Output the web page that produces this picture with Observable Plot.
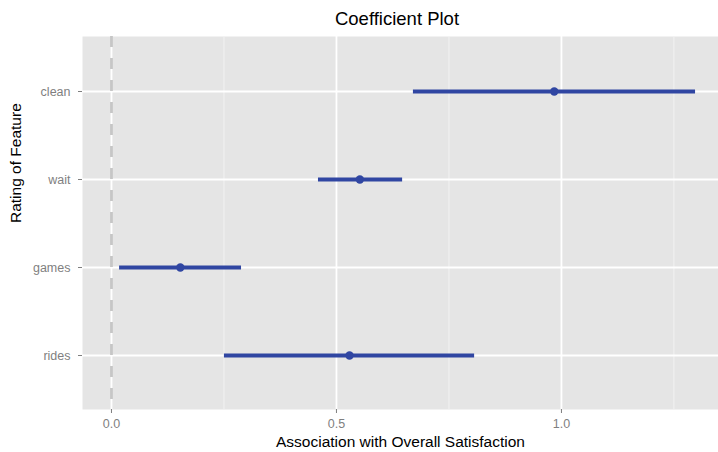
<!DOCTYPE html>
<html>
<head>
<meta charset="utf-8">
<script src="https://cdn.jsdelivr.net/npm/d3@7"></script>
<script src="https://cdn.jsdelivr.net/npm/@observablehq/plot@0.6"></script>
<style>
  html, body { margin: 0; padding: 0; background: #fff; }
  body { width: 718px; height: 452px; overflow: hidden; font-family: "Liberation Sans", Arial, Helvetica, sans-serif; }
  #title { height: 30px; line-height: 37px; text-align: center; font-size: 18.5px; color: #000; padding-left: 76px; box-sizing: border-box; }
  g[aria-label="x-axis tick label"], g[aria-label="y-axis tick label"] { fill: #7f7f7f; }
  g[aria-label="x-axis tick"], g[aria-label="y-axis tick"] { stroke: #7f7f7f; }
</style>
</head>
<body>
<div id="title">Coefficient Plot</div>
<div id="chart"></div>
<script>
const features = ["clean", "wait", "games", "rides"];
const estimates = [0.984, 0.552, 0.153, 0.529];
const lower = [0.671, 0.460, 0.018, 0.251];
const upper = [1.298, 0.647, 0.289, 0.807];
const majorTicks = [0, 0.5, 1.0];
const minorTicks = [0.25, 0.75, 1.25];
const zeroLine = [0];

const data = features.map((f, i) => ({feature: f, est: estimates[i], lo: lower[i], hi: upper[i]}));

const chart = Plot.plot({
  width: 718,
  height: 422,
  marginTop: 6,
  marginBottom: 43,
  marginLeft: 82,
  marginRight: 0,
  style: {fontFamily: '"Liberation Sans", Arial, Helvetica, sans-serif', fontSize: "12.5px", background: "#fff"},
  x: {domain: [-0.0644, 1.349]},
  y: {type: "point", domain: features, padding: 0.6},
  marks: [
    Plot.frame({fill: "#e5e5e5", stroke: null}),
    Plot.ruleX(minorTicks, {stroke: "#f2f2f2", strokeWidth: 1}),
    Plot.ruleX(majorTicks, {stroke: "#ffffff", strokeWidth: 1.8}),
    Plot.ruleY(features, {y: d => d, stroke: "#ffffff", strokeWidth: 1.8}),
    Plot.ruleX(zeroLine, {stroke: "#c6c6c6", strokeWidth: 2.8, strokeDasharray: "11,11"}),
    Plot.ruleY(data, {y: "feature", x1: "lo", x2: "hi", stroke: "#3046a2", strokeWidth: 4}),
    Plot.dot(data, {x: "est", y: "feature", r: 4.2, fill: "#3046a2", stroke: null}),
    Plot.axisX({ticks: majorTicks, tickFormat: d3.format(".1f"), tickSize: 4, tickPadding: 6, fontSize: 12.5, label: null}),
    Plot.axisY({tickSize: 4, tickPadding: 8, fontSize: 12.5, label: null}),
    Plot.text(["Association with Overall Satisfaction"], {frameAnchor: "bottom", dy: 37, text: d => d, fontSize: 15.5, fill: "#000"}),
    Plot.text(["Rating of Feature"], {frameAnchor: "left", dx: -66, rotate: -90, text: d => d, fontSize: 15.5, fill: "#000"})
  ]
});
document.getElementById("chart").appendChild(chart);
</script>
</body>
</html>
